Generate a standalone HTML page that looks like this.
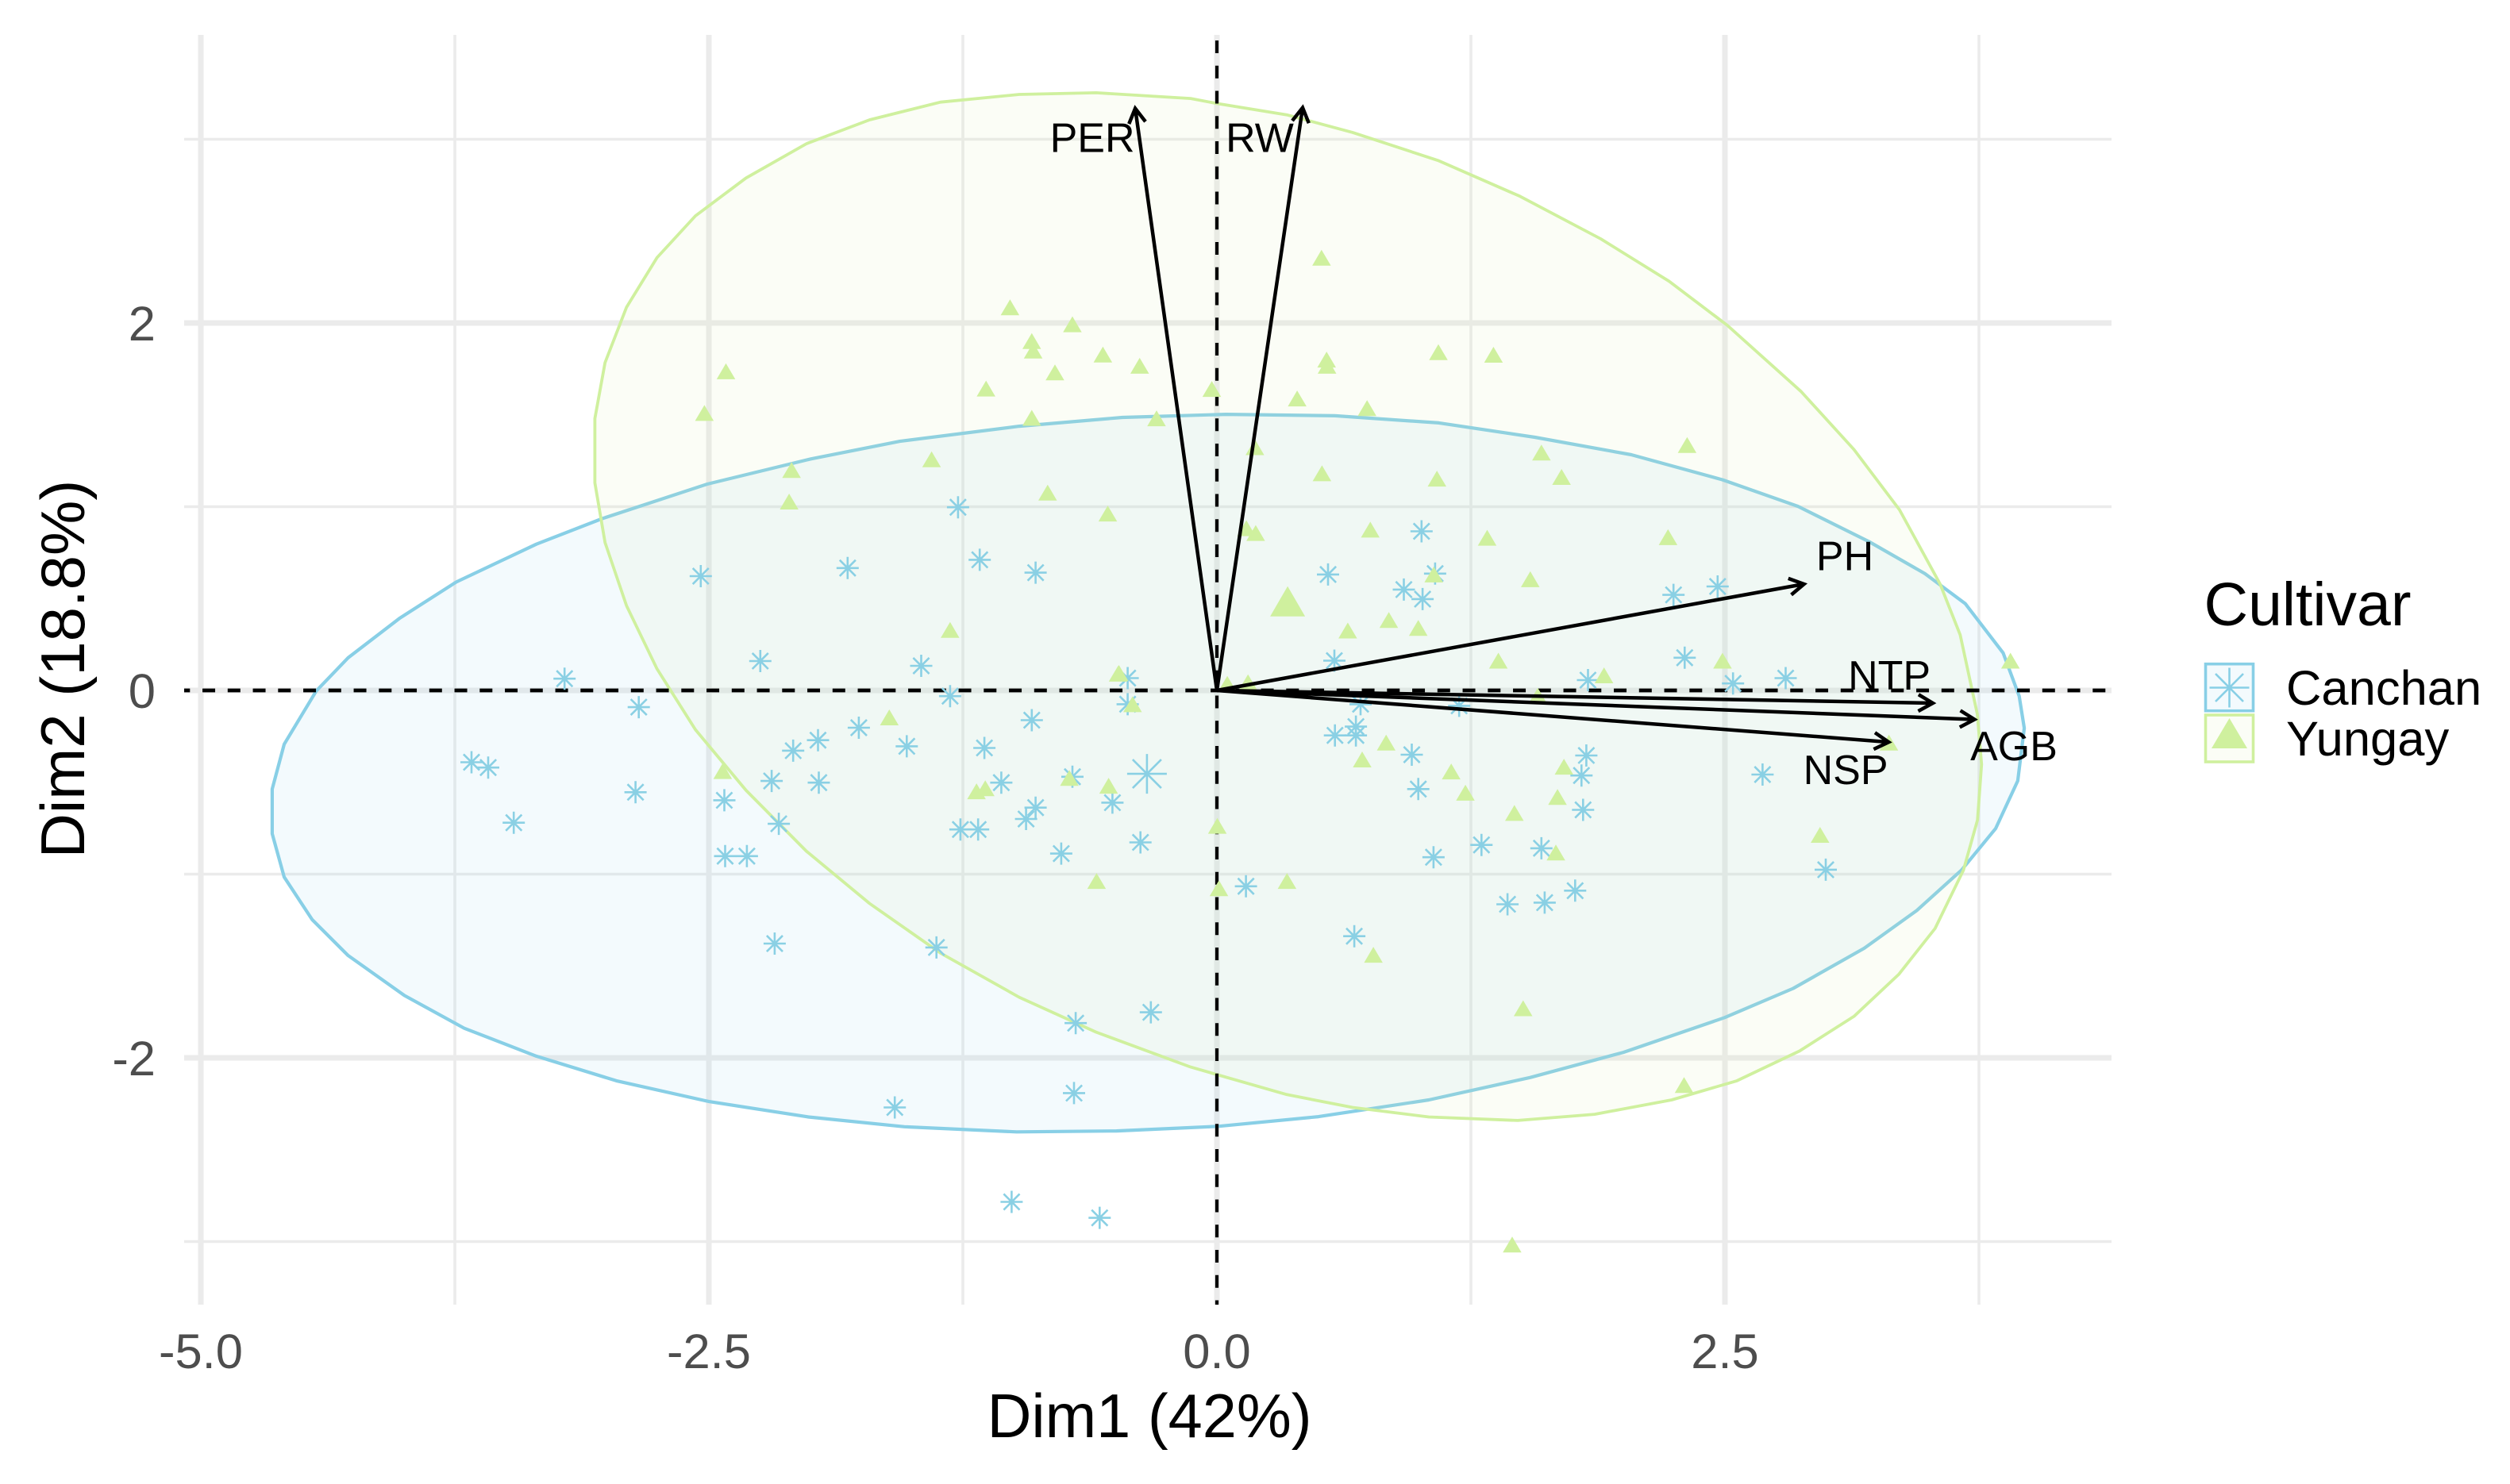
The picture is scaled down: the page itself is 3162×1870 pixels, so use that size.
<!DOCTYPE html>
<html lang="en">
<head>
<meta charset="utf-8">
<title>PCA biplot of Canchan and Yungay cultivars</title>
<style>
html,body{margin:0;padding:0;background:#fff;}
svg{display:block;font-family:"Liberation Sans",sans-serif;}
</style>
</head>
<body>
<svg id="chart" xmlns="http://www.w3.org/2000/svg" width="3162" height="1870" viewBox="0 0 3162 1870">
  <rect x="0" y="0" width="3162" height="1870" fill="#ffffff"/>
  <g id="grid"></g>
  <g id="ellipses"></g>
  <g id="refs"></g>
  <g id="points"></g>
  <g id="arrows"></g>
  <g id="labels"></g>
  <g id="ticks"></g>

  <text x="1448" y="1811" font-size="77.5" text-anchor="middle" fill="#000">Dim1 (42%)</text>
  <text x="106" y="843" font-size="78" text-anchor="middle" fill="#000" transform="rotate(-90 106 843)">Dim2 (18.8%)</text>

  <g>
    <text x="2776.5" y="788" font-size="77" fill="#000">Cultivar</text>
    <rect x="2778.5" y="836.7" width="60" height="59" fill="#87ceeb" fill-opacity="0.1" stroke="#88cfe6" stroke-width="3.6"/>
    <g stroke="#88cfe6" stroke-width="2.6">
      <line x1="2783.5" y1="866.5" x2="2833.5" y2="866.5"/>
      <line x1="2808.5" y1="841.5" x2="2808.5" y2="891.5"/>
      <line x1="2791" y1="849" x2="2826" y2="884"/>
      <line x1="2791" y1="884" x2="2826" y2="849"/>
    </g>
    <text x="2880" y="888" font-size="61.5" fill="#000">Canchan</text>
    <rect x="2778.5" y="901" width="60" height="59" fill="#dceeaa" fill-opacity="0.1" stroke="#cff09e" stroke-width="3.6"/>
    <polygon points="2808.5,905 2831,943 2786,943" fill="#cff09e"/>
    <text x="2880" y="952" font-size="61.5" fill="#000">Yungay</text>
  </g>
</svg>

<script>
// ---- axis data ----
const xMajorTicks = [-5, -2.5, 0, 2.5];
const xTickLabels = ['-5.0', '-2.5', '0.0', '2.5'];
const xMinorTicks = [-3.75, -1.25, 1.25, 3.75];
const yMajorTicks = [-2, 0, 2];
const yTickLabels = ['-2', '0', '2'];
const yMinorTicks = [-3, -1, 1, 3];

// ---- observations ----
const canchanDim1 = [-3.21,-2.54,-1.817,-1.274,-1.167,-0.892,-2.247,-1.455,-0.439,-2.845,-1.313,-0.439,-0.911,-1.762,-3.668,-3.586,-3.46,-2.861,-2.424,-2.156,-2.191,-1.959,-2.085,-1.963,-1.526,-1.144,-1.061,-0.711,-0.514,-0.892,-0.939,-1.262,-1.175,-0.766,-0.376,-2.42,-2.313,-2.176,-1.38,-0.695,-0.325,-1.585,-0.703,-1.01,-0.577,0.143,0.676,1.066,1.302,1.43,1.613,1.597,1.763,0.991,0.959,0.684,0.684,0.707,0.581,1.192,0.578,0.547,0.92,1.012,1.074,1.007,1.818,1.794,1.802,1.826,2.247,2.464,2.302,2.54,2.799,2.685,2.996];
const canchanDim2 = [0.064,0.622,0.666,0.997,0.711,0.641,0.16,0.134,0.067,-0.091,-0.031,-0.075,-0.162,-0.203,-0.391,-0.42,-0.72,-0.554,-0.598,-0.726,-0.493,-0.502,-0.328,-0.271,-0.304,-0.313,-0.502,-0.47,-0.611,-0.638,-0.7,-0.757,-0.757,-0.888,-0.827,-0.902,-0.902,-1.378,-1.399,-1.811,-1.752,-2.27,-2.192,-2.784,-2.871,-1.066,-1.338,-0.908,-0.841,-1.164,-1.155,-0.859,-1.09,-0.537,-0.35,-0.197,-0.245,-0.075,-0.245,-0.084,0.162,0.631,0.549,0.497,0.636,0.866,-0.354,-0.463,-0.65,0.056,0.52,0.566,0.178,0.038,0.067,-0.458,-0.976];
const yungayDim1 = [0.515,-1.018,-0.711,-0.911,-0.904,-0.561,-0.38,-0.797,-2.416,-2.522,-1.136,-0.025,-0.911,-0.297,-1.404,-2.093,-2.105,-0.833,-0.537,-1.313,-0.486,-0.415,-1.612,-2.432,-1.183,-1.14,-0.726,-0.533,-0.592,0.002,0.01,0.345,0.833,0.715,1.153,1.223,1.708,1.676,1.464,1.668,2.968,3.307,0.77,1.507,2.299,1.453,1.09,1.361,0.54,0.542,0.395,0.739,0.187,2.314,1.597,1.696,0.517,1.083,0.755,0.145,0.191,1.33,2.22,1.542,1.067,0.644,0.846,0.991,1.385,2.488,1.905,3.905,0.051,0.153,-0.482,1.579];
const yungayDim2 = [2.355,2.085,1.993,1.902,1.85,1.828,1.767,1.731,1.737,1.51,1.643,1.641,1.484,1.481,1.258,1.2,1.028,1.077,0.963,0.329,0.091,-0.075,-0.147,-0.439,-0.549,-0.532,-0.476,-0.519,-1.037,-0.737,-1.077,-1.037,-0.284,-0.376,-0.441,-0.557,-0.415,-0.58,-0.667,-0.882,-0.786,-0.284,-1.439,-1.73,-2.148,-3.016,1.841,1.827,1.801,1.767,1.589,1.537,1.324,1.336,1.295,1.162,1.182,1.153,0.875,0.883,0.857,0.831,0.834,0.605,0.631,0.326,0.383,0.34,0.162,0.162,0.082,0.162,0.036,0.044,0.095,-0.029];

// ---- group means ----
const canchanMeanDim1 = [-0.344];
const canchanMeanDim2 = [-0.454];
const yungayMeanDim1 = [0.348];
const yungayMeanDim2 = [0.485];

// ---- ellipse outlines ----
const canchanEllipseDim1 = [0.045,-0.465,-0.973,-1.56,-1.998,-2.508,-3.025,-3.349,-3.743,-4.019,-4.275,-4.432,-4.59,-4.649,-4.649,-4.59,-4.452,-4.275,-3.999,-3.704,-3.349,-2.955,-2.499,-2.01,-1.538,-0.986,-0.494,0.006,0.5,1.043,1.541,2.0,2.498,2.836,3.186,3.444,3.664,3.832,3.941,3.973,3.948,3.869,3.683,3.484,3.209,2.859,2.487,2.039,1.565,1.092,0.581];
const canchanEllipseDim2 = [1.503,1.486,1.438,1.356,1.26,1.123,0.935,0.796,0.59,0.395,0.178,-0.003,-0.293,-0.537,-0.78,-1.016,-1.248,-1.443,-1.66,-1.839,-1.991,-2.125,-2.238,-2.322,-2.375,-2.403,-2.398,-2.373,-2.32,-2.229,-2.107,-1.97,-1.781,-1.622,-1.403,-1.198,-0.978,-0.752,-0.492,-0.205,-0.031,0.204,0.472,0.636,0.81,1.002,1.147,1.283,1.378,1.456,1.495];
const yungayEllipseDim1 = [-0.129,-0.594,-0.973,-1.36,-1.709,-2.02,-2.317,-2.566,-2.755,-2.905,-3.011,-3.061,-3.061,-3.011,-2.905,-2.755,-2.566,-2.317,-2.02,-1.709,-1.36,-0.973,-0.594,-0.129,0.344,0.668,1.043,1.48,1.859,2.238,2.559,2.867,3.135,3.355,3.534,3.674,3.743,3.763,3.742,3.658,3.559,3.359,3.135,2.873,2.512,2.225,1.889,1.491,1.092,0.668,0.344,0];
const yungayEllipseDim2 = [3.222,3.253,3.244,3.202,3.106,2.976,2.789,2.583,2.356,2.086,1.784,1.48,1.13,0.805,0.461,0.117,-0.214,-0.544,-0.875,-1.16,-1.43,-1.67,-1.86,-2.05,-2.2,-2.27,-2.322,-2.341,-2.307,-2.229,-2.125,-1.963,-1.774,-1.546,-1.296,-0.978,-0.705,-0.402,-0.13,0.302,0.579,0.983,1.311,1.629,1.987,2.227,2.458,2.69,2.883,3.037,3.133,3.195];

// ---- variable loadings ----
const variableNames = ['PER', 'RW', 'PH', 'NTP', 'AGB', 'NSP'];
const variableDim1 = [-0.402, 0.422, 2.889, 3.523, 3.728, 3.306];
const variableDim2 = [3.168, 3.172, 0.579, -0.069, -0.158, -0.281];
const variableLabelDim1 = [-0.613, 0.211, 3.09, 3.309, 3.922, 3.094];
const variableLabelDim2 = [2.93, 2.93, 0.654, 0.004, -0.38, -0.51];

// ---- scales ----
const PANEL = {left: 232, right: 2660, top: 44, bottom: 1644};
function xScale(v) { return 1533 + v * 256; }
function yScale(v) { return 870 - v * 231.5; }

const NS = 'http://www.w3.org/2000/svg';
function make(tag, parent) {
  const el = document.createElementNS(NS, tag);
  parent.appendChild(el);
  return el;
}
function setAll(el, attrs) {
  for (const key in attrs) el.setAttribute(key, attrs[key]);
}

const gridG = document.getElementById('grid');
const ellipsesG = document.getElementById('ellipses');
const refsG = document.getElementById('refs');
const pointsG = document.getElementById('points');
const arrowsG = document.getElementById('arrows');
const labelsG = document.getElementById('labels');
const ticksG = document.getElementById('ticks');

// grid
xMinorTicks.forEach(function (t) {
  const el = make('line', gridG);
  
  
  setAll(el, {x1: xScale(t), x2: xScale(t), y1: PANEL.top, y2: PANEL.bottom, stroke: '#ebebeb', 'stroke-width': 3.6});
});
yMinorTicks.forEach(function (t) {
  const el = make('line', gridG);
  
  
  setAll(el, {x1: PANEL.left, x2: PANEL.right, y1: yScale(t), y2: yScale(t), stroke: '#ebebeb', 'stroke-width': 3.6});
});
xMajorTicks.forEach(function (t) {
  const el = make('line', gridG);
  
  
  setAll(el, {x1: xScale(t), x2: xScale(t), y1: PANEL.top, y2: PANEL.bottom, stroke: '#ebebeb', 'stroke-width': 7});
});
yMajorTicks.forEach(function (t) {
  const el = make('line', gridG);
  
  
  setAll(el, {x1: PANEL.left, x2: PANEL.right, y1: yScale(t), y2: yScale(t), stroke: '#ebebeb', 'stroke-width': 7});
});

// ellipses
function polyPoints(xs, ys) {
  return xs.map(function (v, i) { return xScale(v).toFixed(1) + ',' + yScale(ys[i]).toFixed(1); }).join(' ');
}
const canchanEllipse = make('polygon', ellipsesG);


setAll(canchanEllipse, {points: polyPoints(canchanEllipseDim1, canchanEllipseDim2), fill: '#87ceeb', 'fill-opacity': 0.1, stroke: '#88cfe6', 'stroke-width': 4.2, 'stroke-linejoin': 'round'});
const yungayEllipse = make('polygon', ellipsesG);


setAll(yungayEllipse, {points: polyPoints(yungayEllipseDim1, yungayEllipseDim2), fill: '#dceeaa', 'fill-opacity': 0.1, stroke: '#cff09e', 'stroke-width': 3.8, 'stroke-linejoin': 'round'});

// reference lines
const hRef = make('line', refsG);


setAll(hRef, {x1: PANEL.left, x2: PANEL.right, y1: yScale(0), y2: yScale(0), stroke: '#000', 'stroke-width': 4.8, 'stroke-dasharray': '16 15.75', 'stroke-dashoffset': 8.7});
const vRef = make('line', refsG);


setAll(vRef, {x1: xScale(0), x2: xScale(0), y1: PANEL.top, y2: PANEL.bottom, stroke: '#000', 'stroke-width': 4.2, 'stroke-dasharray': '16 15.75', 'stroke-dashoffset': 24.75});

// markers
function drawStar(px, py, r, sw, name) {
  const g = make('g', pointsG);
  
  
  const d = r * 0.72;
  const segs = [[-r, 0, r, 0], [0, -r, 0, r], [-d, -d, d, d], [-d, d, d, -d]];
  const path = make('path', g);
  
  
  setAll(path, {
    d: segs.map(function (s) { return 'M' + (px + s[0]).toFixed(1) + ' ' + (py + s[1]).toFixed(1) + 'L' + (px + s[2]).toFixed(1) + ' ' + (py + s[3]).toFixed(1); }).join(''),
    stroke: '#8ad0e4', 'stroke-width': sw, fill: 'none'
  });
}
function drawTriangle(px, py, w, h, name) {
  const tri = make('polygon', pointsG);
  
  
  setAll(tri, {
    points: px.toFixed(1) + ',' + (py - h / 2).toFixed(1) + ' ' + (px + w / 2).toFixed(1) + ',' + (py + h / 2).toFixed(1) + ' ' + (px - w / 2).toFixed(1) + ',' + (py + h / 2).toFixed(1),
    fill: '#cff09e'
  });
}
canchanDim1.forEach(function (v, i) {
  drawStar(xScale(v), yScale(canchanDim2[i]), 14, 2.6, 'point-canchan');
});
yungayDim1.forEach(function (v, i) {
  drawTriangle(xScale(v), yScale(yungayDim2[i]), 23.5, 20, 'point-yungay');
});
drawStar(xScale(canchanMeanDim1[0]), yScale(canchanMeanDim2[0]), 25, 2.6, 'mean-canchan');
drawTriangle(xScale(yungayMeanDim1[0]), yScale(yungayMeanDim2[0]), 44, 38, 'mean-yungay');

// arrows
variableNames.forEach(function (name, i) {
  const x0 = xScale(0), y0 = yScale(0);
  const x1 = xScale(variableDim1[i]), y1 = yScale(variableDim2[i]);
  const ang = Math.atan2(y1 - y0, x1 - x0);
  const len = 21, spread = Math.PI / 6;
  const ax = x1 - len * Math.cos(ang - spread), ay = y1 - len * Math.sin(ang - spread);
  const bx = x1 - len * Math.cos(ang + spread), by = y1 - len * Math.sin(ang + spread);
  const shaft = make('path', arrowsG);
  
  
  setAll(shaft, {
    d: 'M' + x0 + ' ' + y0 + 'L' + x1.toFixed(1) + ' ' + y1.toFixed(1) +
       'M' + ax.toFixed(1) + ' ' + ay.toFixed(1) + 'L' + x1.toFixed(1) + ' ' + y1.toFixed(1) + 'L' + bx.toFixed(1) + ' ' + by.toFixed(1),
    stroke: '#000', 'stroke-width': 4.5, fill: 'none', 'stroke-linejoin': 'miter'
  });
  const label = make('text', labelsG);
  
  
  setAll(label, {x: xScale(variableLabelDim1[i]), y: yScale(variableLabelDim2[i]), 'font-size': 52, 'text-anchor': 'middle', fill: '#000'});
  label.textContent = name;
});

// tick labels
xMajorTicks.forEach(function (t, i) {
  const el = make('text', ticksG);
  
  
  setAll(el, {x: xScale(t), y: 1724, 'font-size': 61.5, 'text-anchor': 'middle', fill: '#4d4d4d'});
  el.textContent = xTickLabels[i];
});
yMajorTicks.forEach(function (t, i) {
  const el = make('text', ticksG);
  
  
  setAll(el, {x: 196, y: yScale(t) + 22, 'font-size': 61.5, 'text-anchor': 'end', fill: '#4d4d4d'});
  el.textContent = yTickLabels[i];
});
</script>
</body>
</html>
